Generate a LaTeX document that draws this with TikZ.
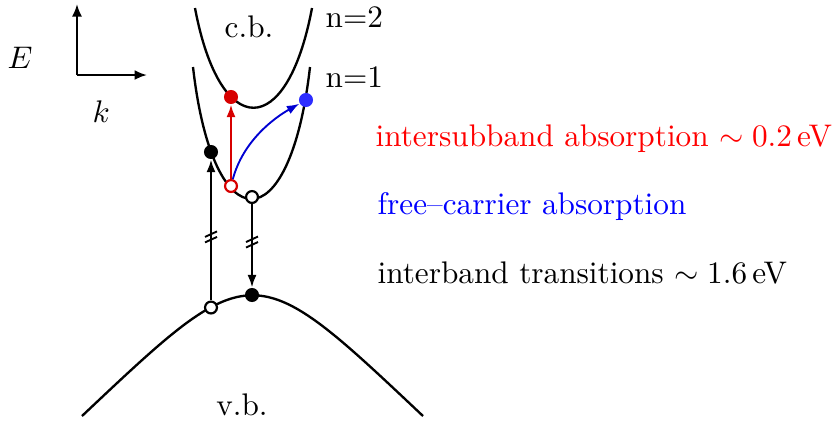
\documentclass[tikz,border=0pt]{standalone}
\usetikzlibrary{arrows.meta}
\definecolor{dred}{RGB}{215,0,0}
\definecolor{dblue}{RGB}{0,0,210}
\definecolor{lblue}{RGB}{45,45,255}
\begin{document}
\begin{tikzpicture}[x=0.32pt,y=-0.32pt,
  band/.style={line width=0.75pt},
  trans/.style={line width=0.6pt,-{Latex[length=4pt,width=2.9pt]}},
  axis/.style={line width=0.7pt,-{Latex[length=4pt,width=3.2pt]}},
  fulldot/.style={circle,fill=#1,inner sep=0pt,minimum size=4.5pt},
  holedot/.style={circle,draw=#1,fill=white,line width=0.7pt,inner sep=0pt,minimum size=3.8pt},
  lbl/.style={inner sep=0pt},
  brk/.style={line width=0.6pt}]
\useasboundingbox (0,0) rectangle (833,425);
% axes
\coordinate (O) at (77,75);
\coordinate (Etop) at (77,4);
\coordinate (kend) at (147,75);
\draw[axis] (O) -- (Etop);
\draw[axis] (O) -- (kend);
\node[lbl,anchor=base west] (Elab) at (7,68) {$E$};
\node[lbl,anchor=base west] (klab) at (92,122) {$k$};
% bands
\draw[band] (195,8) .. controls (220,141) and (287,141) .. (312,8);
\draw[band] (193,67) .. controls (213,243) and (290,243) .. (310,67);
\draw[band] (82,416) .. controls (252.5,255) and (252.5,255) .. (423,416);
\node[lbl,anchor=base] (cb) at (249,37) {c.b.};
\node[lbl,anchor=base] (vb) at (242,415) {v.b.};
\node[lbl,anchor=base west] (n2) at (325,27) {n=2};
\node[lbl,anchor=base west] (n1) at (325,87) {n=1};
% carriers
\node[fulldot=dred] (rd) at (231,97) {};
\node[fulldot=lblue] (bd) at (306,100) {};
\node[fulldot=black] (cbd) at (211,152) {};
\node[holedot=dred] (rh) at (231,186) {};
\node[holedot=black] (cbh) at (252,197) {};
\node[fulldot=black] (vbd) at (252,295) {};
\node[holedot=black] (vbh) at (211,307.5) {};
% transitions
\draw[trans,dred] (rh) -- (rd);
\draw[trans,dblue] (rh) .. controls +(12,-45) and +(-32,18) .. (bd);
\draw[trans] (vbh) -- (cbd) coordinate[pos=0.455] (b1);
\draw[trans] (cbh) -- (vbd) coordinate[pos=0.45] (b2);
\foreach \b in {b1,b2}{
  \draw[brk] ([shift={(-6,0.5)}]\b) -- ([shift={(6,-5)}]\b);
  \draw[brk] ([shift={(-6,6)}]\b) -- ([shift={(6,0.5)}]\b);
}
% legend
\node[lbl,anchor=base west,text=red] (t1) at (375,146) {intersubband absorption $\sim 0.2\,$eV};
\node[lbl,anchor=base west,text=blue] (t2) at (377,214) {free--carrier absorption};
\node[lbl,anchor=base west] (t3) at (377,283) {interband transitions $\sim 1.6\,$eV};
\end{tikzpicture}
\end{document}
